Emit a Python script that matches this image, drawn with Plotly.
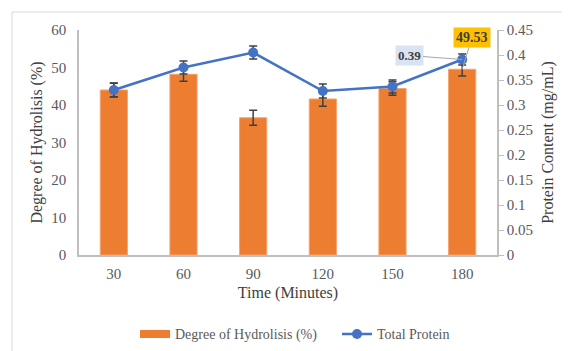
import plotly.graph_objects as go

times = ["30", "60", "90", "120", "150", "180"]
dh = [44.0, 48.2, 36.6, 41.6, 44.4, 49.53]
dh_err = [1.8, 1.9, 2.0, 1.9, 1.8, 1.8]
protein = [0.330, 0.375, 0.405, 0.328, 0.337, 0.391]
protein_err = [0.014, 0.013, 0.013, 0.014, 0.013, 0.011]
left_ticks = [0, 10, 20, 30, 40, 50, 60]
right_ticks = [0, 0.05, 0.1, 0.15, 0.2, 0.25, 0.3, 0.35, 0.4, 0.45]

FONT = "Liberation Serif"
GRAY = "#595959"
AX = "#BFBFBF"
ORANGE = "#ED7D31"
BLUE = "#4472C4"
last = len(times) - 1

L, T, PW, PH = 71, 22, 418, 225

fig = go.Figure()
fig.add_trace(go.Bar(
    x=times, y=dh, name="Degree of Hydrolisis (%)", showlegend=False,
    marker=dict(color=ORANGE, line=dict(color="#F4A36E", width=1)),
    error_y=dict(type="data", array=dh_err, color="#404040", thickness=1.5, width=4),
))
# legend swatch for bars (wide rectangle like the original)
fig.add_trace(go.Scatter(
    x=[None], y=[None], name="Degree of Hydrolisis (%)", mode="lines",
    line=dict(color=ORANGE, width=8), legend="legend",
))
fig.add_trace(go.Scatter(
    x=times, y=protein, name="Total Protein", yaxis="y2", mode="lines+markers",
    line=dict(color=BLUE, width=2.5),
    marker=dict(color=BLUE, size=10), legend="legend2",
    error_y=dict(type="data", array=protein_err, color="#404040", thickness=1.5, width=4),
))

fig.add_annotation(x=last, y=protein[-1], xref="x", yref="y2",
                   text="<b>0.39</b>", showarrow=True, arrowhead=0, arrowwidth=1,
                   arrowcolor="#A6A6A6", ax=-53, ay=-4, bgcolor="#DAE3F3",
                   borderpad=2, font=dict(family=FONT, size=13, color="#404040"))
fig.add_annotation(x=last, y=dh[-1], xref="x", yref="y",
                   text="<b>49.53</b>", showarrow=True, arrowhead=0, arrowwidth=1,
                   arrowcolor="#A6A6A6", ax=10, ay=-32, bgcolor="#FFC000",
                   borderpad=2, font=dict(family=FONT, size=14, color="#404040"))

fig.add_shape(type="rect", xref="paper", yref="paper",
              x0=(4 - L) / PW, x1=(620 - L) / PW,
              y0=(T + PH - 420) / PH, y1=(T + PH - 4) / PH,
              line=dict(color="#D9D9D9", width=1), fillcolor="rgba(0,0,0,0)", layer="below")

leg_common = dict(orientation="h", xanchor="left", y=-0.353, yanchor="middle",
                  font=dict(family=FONT, size=14, color=GRAY), itemwidth=30,
                  bgcolor="rgba(0,0,0,0)")

fig.update_layout(
    width=570, height=351,
    margin=dict(l=L, r=570 - L - PW, t=T, b=351 - T - PH, autoexpand=False),
    paper_bgcolor="white", plot_bgcolor="white",
    font=dict(family=FONT, size=15, color=GRAY),
    bargap=0.61,
    showlegend=True,
    legend=dict(x=(127 - L) / PW, **leg_common),
    legend2=dict(x=(329 - L) / PW, **leg_common),
    xaxis=dict(type="category", range=[-0.5, last + 0.5], showline=True, linecolor=AX, linewidth=1.5,
               showgrid=False, ticks="", ticklabelstandoff=4, tickfont=dict(size=15, color=GRAY),
               automargin=False,
               title=dict(text="Time (Minutes)", font=dict(size=16, color="#404040"), standoff=6)),
    yaxis=dict(range=[0, 60], tickvals=left_ticks, showline=True, linecolor=AX, linewidth=1.5,
               showgrid=False, zeroline=False, ticks="", ticklabelstandoff=8, automargin=False,
               tickfont=dict(size=15, color=GRAY),
               title=dict(text="Degree of Hydrolisis (%)", font=dict(size=16, color="#404040"), standoff=5)),
    yaxis2=dict(range=[0, 0.45], tickvals=right_ticks, overlaying="y", side="right",
                showline=True, linecolor=AX, linewidth=1.5, showgrid=False, zeroline=False,
                ticks="outside", ticklen=5, tickcolor=AX, tickfont=dict(size=15, color=GRAY),
                automargin=False,
                title=dict(text="Protein Content (mg/mL)", font=dict(size=16, color="#404040"), standoff=10)),
)

fig.write_html("out.html")
